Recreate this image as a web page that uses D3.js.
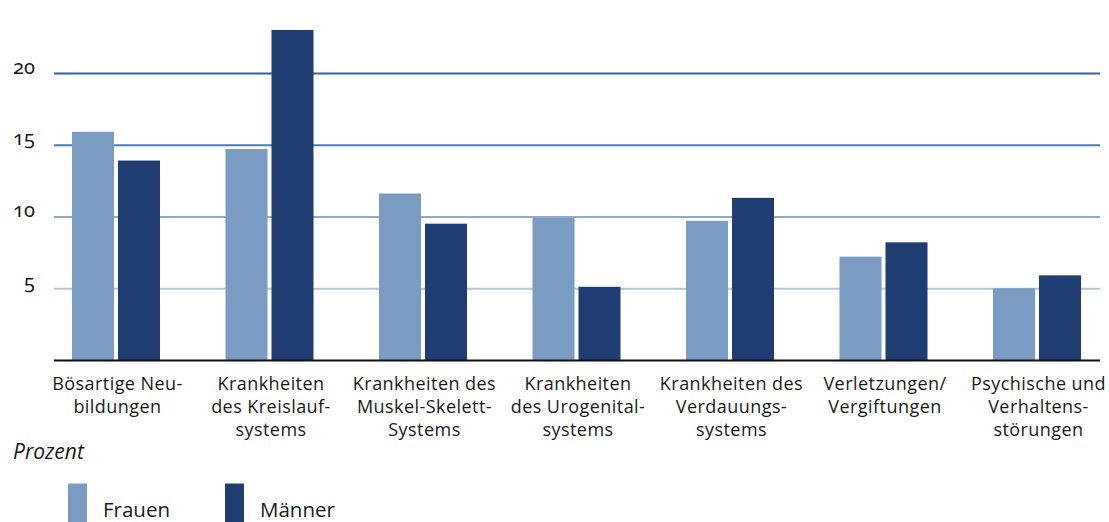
<!DOCTYPE html>
<html lang="de">
<head>
<meta charset="utf-8">
<script src="https://cdn.jsdelivr.net/npm/d3@7"></script>
<style>
  html, body { margin: 0; padding: 0; background: #fff; }
  svg { display: block; }
  .cat { font-family: "Open Sans", "Noto Sans", sans-serif; font-size: 18px; letter-spacing: 0.45px; fill: #1a1a1a; }
  .tick text { font-family: "Noto Sans", "Open Sans", sans-serif; font-size: 20px; fill: #1a1a1a; font-variant-numeric: oldstyle-nums; }
  .unit { font-family: "Open Sans", "Noto Sans", sans-serif; font-size: 21px; font-style: italic; fill: #1a1a1a; }
  .legend text { font-family: "Open Sans", "Noto Sans", sans-serif; font-size: 20.5px; fill: #1a1a1a; }
</style>
</head>
<body>
<svg id="chart" width="1109" height="522"></svg>
<script>
// Diagnosegruppen (Zeilen der Achsenbeschriftung)
const categories = [
  ["Bösartige Neu-", "bildungen"],
  ["Krankheiten", "des Kreislauf-", "systems"],
  ["Krankheiten des", "Muskel-Skelett-", "Systems"],
  ["Krankheiten", "des Urogenital-", "systems"],
  ["Krankheiten des", "Verdauungs-", "systems"],
  ["Verletzungen/", "Vergiftungen"],
  ["Psychische und", "Verhaltens-", "störungen"]
];
const seriesNames = ["Frauen", "Männer"];
const frauen = [15.9, 14.7, 11.6, 9.9, 9.7, 7.2, 5.0];
const maenner = [13.9, 23.0, 9.5, 5.1, 11.3, 8.2, 5.9];
const yTicks = [5, 10, 15, 20];
const unitLabel = "Prozent";

const colors = { "Frauen": "#7a9cc2", "Männer": "#1f3d72" };
const gridColors = { 5: "#b2c6dd", 10: "#8eabca", 15: "#4f7db0", 20: "#33629a" };

const svg = d3.select("#chart");
const left = 54, right = 1100, baseY = 360;

const keys = categories.map((c, i) => i);
const x0 = d3.scaleBand().domain(keys).range([39.25, 1113.75]).paddingInner(0).paddingOuter(0);
const pairWidth = 88;
const x1 = d3.scaleBand().domain(seriesNames).range([0, pairWidth]).paddingInner(4 / 46).paddingOuter(0);
const y = d3.scaleLinear().domain([0, 20]).range([baseY, 73]);

// Gitterlinien mit Beschriftung
const yAxis = d3.axisLeft(y).tickValues(yTicks).tickSize(-(right - left)).tickPadding(19).tickFormat(d3.format("d"));
const gAxis = svg.append("g").attr("transform", `translate(${left},0)`).call(yAxis);
gAxis.select(".domain").remove();
gAxis.selectAll(".tick line")
  .attr("stroke", d => gridColors[d])
  .attr("stroke-width", 2);
gAxis.selectAll(".tick text").attr("dy", "0em");

// Balken
const rows = keys.map(i => ({ i, values: [
  { key: "Frauen", value: frauen[i] },
  { key: "Männer", value: maenner[i] }
]}));

const groups = svg.append("g").selectAll("g")
  .data(rows).join("g")
  .attr("transform", d => `translate(${x0(d.i) + (x0.bandwidth() - pairWidth) / 2},0)`);

groups.selectAll("rect")
  .data(d => d.values).join("rect")
  .attr("x", d => x1(d.key))
  .attr("width", x1.bandwidth())
  .attr("y", d => y(d.value))
  .attr("height", d => y(0) - y(d.value))
  .attr("fill", d => colors[d.key]);

// Grundlinie
svg.append("line")
  .attr("x1", left).attr("x2", right)
  .attr("y1", y(0) + 0.5).attr("y2", y(0) + 0.5)
  .attr("stroke", "#111").attr("stroke-width", 2);

// Kategorienbeschriftung
const catG = svg.append("g");
categories.forEach((lines, i) => {
  const cx = x0(i) + x0.bandwidth() / 2 + 1.5;
  const t = catG.append("text").attr("class", "cat").attr("text-anchor", "middle");
  lines.forEach((ln, j) => {
    t.append("tspan").attr("x", cx).attr("y", 390 + j * 23).text(ln);
  });
});

// Einheit
svg.append("text").attr("class", "unit").attr("x", 13).attr("y", 459).text(unitLabel);

// Legende
const legendPos = [68, 225];
const lg = svg.append("g").attr("class", "legend");
seriesNames.forEach((name, i) => {
  lg.append("rect")
    .attr("x", legendPos[i]).attr("y", 483.5)
    .attr("width", 19).attr("height", 40)
    .attr("fill", colors[name]);
  lg.append("text")
    .attr("x", legendPos[i] + 35).attr("y", 517)
    .text(name);
});
</script>
</body>
</html>
